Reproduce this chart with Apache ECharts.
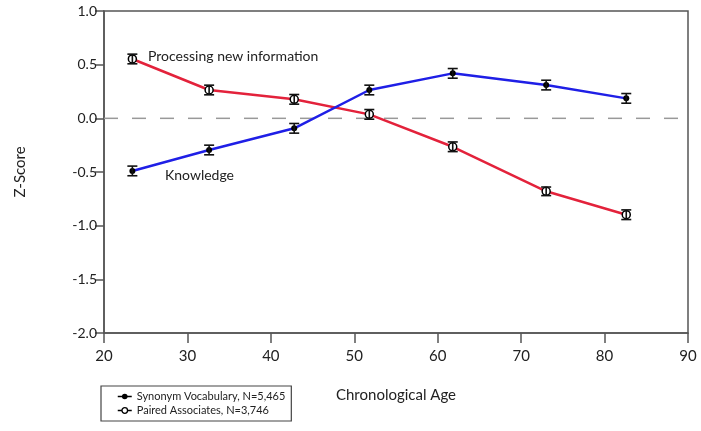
<!DOCTYPE html>
<html><head><meta charset="utf-8">
<script src="https://cdn.jsdelivr.net/npm/echarts@6/dist/echarts.min.js"></script>
<style>html,body{margin:0;padding:0;background:#fff}#c{width:701px;height:431px}</style>
</head><body><div id="c"></div>
<script>
var ages = [23.4, 32.6, 42.8, 51.8, 61.8, 73.0, 82.6];
var knowledge = [-0.49, -0.295, -0.093, 0.264, 0.419, 0.31, 0.186];
var knowledgeErr = [0.045, 0.045, 0.045, 0.045, 0.045, 0.045, 0.045];
var processing = [0.553, 0.264, 0.177, 0.037, -0.265, -0.68, -0.898];
var processingErr = [0.045, 0.045, 0.045, 0.045, 0.045, 0.04, 0.045];
var xTicks = [20, 30, 40, 50, 60, 70, 80, 90];
var yTicks = [-2.0, -1.5, -1.0, -0.5, 0.0, 0.5, 1.0];
var seriesNames = ['Synonym Vocabulary, N=5,465', 'Paired Associates, N=3,746'];

var FONT = 'Lato, "Open Sans", sans-serif';
function pairs(ys){ return ages.map(function(a,i){ return [a, ys[i]]; }); }
function errData(ys, es){ return ages.map(function(a,i){ return [a, ys[i], es[i]]; }); }
function errRender(params, api){
  var x = api.value(0), y = api.value(1), e = api.value(2);
  var lo = api.coord([x, y - e]), hi = api.coord([x, y + e]);
  var w = 5;
  var st = {stroke:'#111', lineWidth:1.6};
  return {type:'group', children:[
    {type:'line', shape:{x1:lo[0],y1:lo[1],x2:hi[0],y2:hi[1]}, style:st},
    {type:'line', shape:{x1:lo[0]-w,y1:lo[1],x2:lo[0]+w,y2:lo[1]}, style:st},
    {type:'line', shape:{x1:hi[0]-w,y1:hi[1],x2:hi[0]+w,y2:hi[1]}, style:st}
  ]};
}
var chart = echarts.init(document.getElementById('c'), null, {renderer:'canvas'});
chart.setOption({
  animation:false,
  textStyle:{fontFamily:FONT},
  grid:{left:104, right:13, top:11, bottom:98, show:true, borderColor:'#555', borderWidth:1.5},
  legend:{
    orient:'vertical', left:101, top:386,
    padding:[5,6,5,16], itemGap:3, itemWidth:14, itemHeight:7,
    borderColor:'#444', borderWidth:1.2,
    textStyle:{fontSize:11, color:'#222', fontFamily:FONT},
    data:[
      {name:seriesNames[0], itemStyle:{color:'#000'}, lineStyle:{color:'#000', width:1.5}},
      {name:seriesNames[1], itemStyle:{color:'#fff', borderColor:'#000', borderWidth:1.3}, lineStyle:{color:'#000', width:1.5}}
    ]
  },
  xAxis:{
    type:'value', min:xTicks[0], max:xTicks[xTicks.length-1], interval:10,
    name:'Chronological Age', nameLocation:'middle', nameGap:55,
    nameTextStyle:{fontSize:15, color:'#222'},
    axisLine:{onZero:false, lineStyle:{color:'#555', width:1.5}},
    axisTick:{length:10, lineStyle:{color:'#555', width:1.5}},
    axisLabel:{fontSize:15, color:'#222', margin:16},
    splitLine:{show:false}
  },
  yAxis:{
    type:'value', min:yTicks[0], max:yTicks[yTicks.length-1], interval:0.5,
    name:'Z-Score', nameLocation:'middle', nameGap:76, nameRotate:90,
    nameTextStyle:{fontSize:15, color:'#222'},
    axisLine:{show:true, lineStyle:{color:'#555', width:1.5}},
    axisTick:{show:true, length:9, lineStyle:{color:'#555', width:1.5}},
    axisLabel:{fontSize:14, color:'#222', margin:7, formatter:function(v){ return v.toFixed(1); }},
    splitLine:{show:false}
  },
  series:[
    {name:'zero', type:'line', data:[[20,0],[90,0]], symbol:'none', silent:true,
     lineStyle:{color:'#999', width:1.5, type:[14,14]}, z:1},
    {name:seriesNames[1], type:'line', data:pairs(processing), symbol:'circle', symbolSize:8,
     itemStyle:{color:'#fff', borderColor:'#000', borderWidth:1.5},
     lineStyle:{color:'#e3223b', width:2.5}, z:3},
    {name:seriesNames[0], type:'line', data:pairs(knowledge), symbol:'circle', symbolSize:6,
     itemStyle:{color:'#000'},
     lineStyle:{color:'#1f1fe6', width:2.5}, z:4},
    {type:'custom', renderItem:errRender, data:errData(processing, processingErr), z:5, silent:true},
    {type:'custom', renderItem:errRender, data:errData(knowledge, knowledgeErr), z:5, silent:true}
  ],
  graphic:[
    {type:'text', left:148, top:49, style:{text:'Processing new information', fontSize:14, fill:'#222', fontFamily:FONT}},
    {type:'text', left:165, top:168, style:{text:'Knowledge', fontSize:14, fill:'#222', fontFamily:FONT}}
  ]
});
</script></body></html>
